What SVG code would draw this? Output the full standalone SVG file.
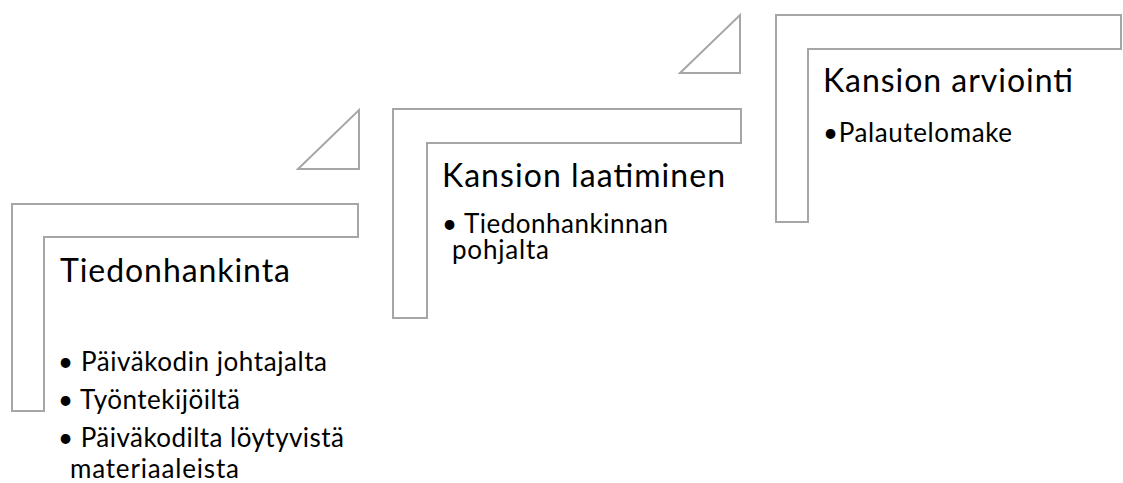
<svg xmlns="http://www.w3.org/2000/svg" width="1123" height="483" viewBox="0 0 1123 483">
<style>
.shape{fill:#ffffff;stroke:#a6a6a6;stroke-width:2;stroke-linejoin:miter}
.title{font-family:Lato,"Liberation Sans",sans-serif;font-size:32px;fill:#000000}
.item{font-family:Lato,"Liberation Sans",sans-serif;font-size:26px;fill:#000000}
</style>
<rect width="1123" height="483" fill="#ffffff"/>
<g id="connectors">
<polygon class="shape" points="359,110 359,169 298,169"/>
<polygon class="shape" points="740,15 740,73 680,73"/>
</g>
<g id="step1">
<path class="shape" d="M12,204 H358 V237 H44 V411 H12 Z"/>
<text class="title" x="60" y="282" textLength="230">Tiedonhankinta</text>
<text class="item" x="58" y="371" textLength="269">• Päiväkodin johtajalta</text>
<text class="item" x="58" y="409" textLength="182">• Työntekijöiltä</text>
<text class="item" x="58" y="447" textLength="286">• Päiväkodilta löytyvistä</text>
<text class="item" x="70" y="478" textLength="169">materiaaleista</text>
</g>
<g id="step2">
<path class="shape" d="M393,109 H741 V143 H427 V318 H393 Z"/>
<text class="title" x="442" y="187" textLength="283">Kansion laatiminen</text>
<text class="item" x="442" y="233" textLength="226">• Tiedonhankinnan</text>
<text class="item" x="452" y="259" textLength="97">pohjalta</text>
</g>
<g id="step3">
<path class="shape" d="M776,15 H1121 V49 H808 V222 H776 Z"/>
<text class="title" x="823" y="92" textLength="250">Kansion arviointi</text>
<text class="item" x="823" y="142" textLength="189">•Palautelomake</text>
</g>
</svg>
